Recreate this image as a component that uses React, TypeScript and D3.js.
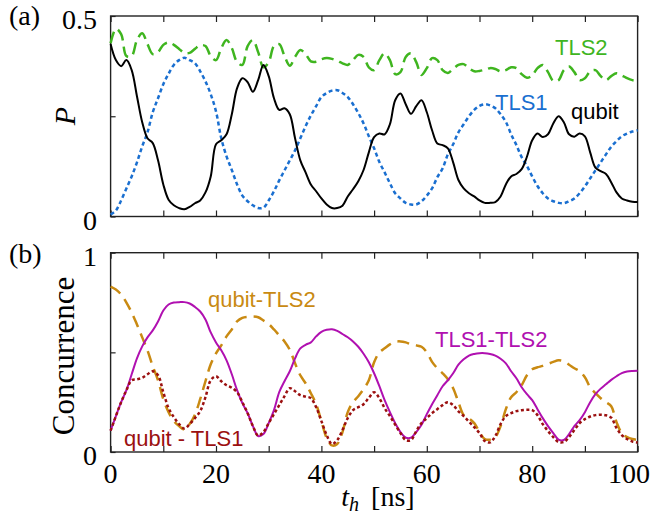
import * as d3 from 'd3'
import { useEffect, useRef } from 'react'

// sample times, ns
const timeNs = d3.range(0, 101, 1)

// panel (a): populations
const qubitP = [
  0.43, 0.39, 0.375, 0.39, 0.365, 0.3, 0.235, 0.195, 0.183, 0.14,
  0.08, 0.042, 0.028, 0.021, 0.018, 0.024, 0.033, 0.04, 0.06, 0.1,
  0.18, 0.19, 0.205, 0.255, 0.32, 0.345, 0.335, 0.311, 0.34, 0.378,
  0.35, 0.295, 0.266, 0.27, 0.255, 0.195, 0.14, 0.11, 0.08, 0.063,
  0.045, 0.03, 0.021, 0.021, 0.027, 0.05, 0.068, 0.088, 0.116, 0.16,
  0.198, 0.207, 0.205, 0.23, 0.29, 0.307, 0.28, 0.256, 0.275, 0.29,
  0.26, 0.215, 0.182, 0.178, 0.17, 0.135, 0.091, 0.07, 0.058, 0.05,
  0.04, 0.034, 0.034, 0.036, 0.05, 0.08, 0.1, 0.106, 0.118, 0.149,
  0.19, 0.207, 0.198, 0.205, 0.232, 0.25, 0.235, 0.205, 0.199, 0.207,
  0.2, 0.16, 0.122, 0.113, 0.106, 0.085, 0.06, 0.045, 0.04, 0.037,
  0.036,
]
const tls1P = [
  0.005, 0.015, 0.04, 0.07, 0.1, 0.135, 0.175, 0.21, 0.26, 0.295,
  0.33, 0.356, 0.378, 0.39, 0.396, 0.39, 0.382, 0.362, 0.337, 0.305,
  0.262, 0.195, 0.15, 0.116, 0.08, 0.052, 0.038, 0.028, 0.021, 0.022,
  0.04, 0.063, 0.09, 0.115, 0.14, 0.165, 0.195, 0.225, 0.252, 0.275,
  0.298, 0.308, 0.314, 0.315, 0.308, 0.298, 0.28, 0.258, 0.232, 0.2,
  0.17, 0.136, 0.11, 0.083, 0.058, 0.045, 0.034, 0.03, 0.03, 0.038,
  0.052, 0.07, 0.098, 0.12, 0.155, 0.18, 0.21, 0.23, 0.25, 0.266,
  0.276, 0.28, 0.277, 0.27, 0.255, 0.236, 0.205, 0.178, 0.148, 0.126,
  0.1, 0.076, 0.058, 0.045, 0.038, 0.034, 0.033, 0.038, 0.045, 0.058,
  0.075, 0.095, 0.115, 0.135, 0.155, 0.174, 0.188, 0.2, 0.207, 0.212,
  0.215,
]
const tls2P = [
  0.432, 0.468, 0.455, 0.4, 0.4, 0.44, 0.457, 0.43, 0.405, 0.41,
  0.428, 0.434, 0.428, 0.418, 0.408, 0.408, 0.418, 0.427, 0.425, 0.4,
  0.39, 0.42, 0.44, 0.42, 0.385, 0.378, 0.425, 0.44, 0.41, 0.372,
  0.385, 0.425, 0.43, 0.4, 0.376, 0.398, 0.415, 0.405, 0.387, 0.386,
  0.392, 0.395, 0.393, 0.388, 0.382, 0.378, 0.39, 0.403, 0.398, 0.372,
  0.365, 0.39, 0.407, 0.39, 0.355, 0.36, 0.398, 0.407, 0.385, 0.353,
  0.37, 0.395, 0.39, 0.365, 0.358, 0.368, 0.378, 0.38, 0.37, 0.362,
  0.363, 0.366, 0.37, 0.368, 0.362, 0.365, 0.372, 0.37, 0.355, 0.346,
  0.352, 0.37, 0.378, 0.36, 0.338, 0.34, 0.365, 0.374, 0.36, 0.34,
  0.345, 0.362, 0.365, 0.35, 0.34, 0.35, 0.357, 0.352, 0.345, 0.34,
  0.338,
]

// panel (b): concurrence
const tls1Tls2C = [
  0.107, 0.18, 0.25, 0.31, 0.39, 0.47, 0.53, 0.575, 0.61, 0.655,
  0.71, 0.74, 0.75, 0.752, 0.752, 0.745, 0.728, 0.705, 0.665, 0.6,
  0.55, 0.51, 0.46, 0.39, 0.31, 0.245, 0.195, 0.13, 0.08, 0.09,
  0.145, 0.21, 0.3, 0.355, 0.405, 0.47, 0.52, 0.538, 0.55, 0.58,
  0.603, 0.613, 0.616, 0.608, 0.592, 0.576, 0.555, 0.528, 0.493, 0.45,
  0.395, 0.33, 0.26, 0.2, 0.145, 0.1, 0.072, 0.072, 0.1, 0.137,
  0.19, 0.24, 0.285, 0.33, 0.36, 0.395, 0.438, 0.465, 0.484, 0.492,
  0.496, 0.496, 0.492, 0.484, 0.468, 0.445, 0.405, 0.37, 0.325, 0.29,
  0.26, 0.215, 0.17, 0.13, 0.095, 0.062, 0.06, 0.09, 0.13, 0.16,
  0.2, 0.25, 0.29, 0.318, 0.34, 0.362, 0.38, 0.396, 0.404, 0.407,
  0.408,
]
const qubitTls2C = [
  0.83, 0.815, 0.79, 0.75, 0.7, 0.64, 0.575, 0.51, 0.43, 0.36,
  0.265, 0.2, 0.155, 0.13, 0.113, 0.14, 0.187, 0.265, 0.355, 0.44,
  0.495, 0.535, 0.58, 0.615, 0.655, 0.673, 0.678, 0.68, 0.676, 0.66,
  0.642, 0.615, 0.585, 0.555, 0.513, 0.445, 0.385, 0.345, 0.295, 0.24,
  0.155, 0.07, 0.033, 0.04, 0.1, 0.2, 0.25, 0.28, 0.315, 0.36,
  0.45, 0.5, 0.52, 0.54, 0.553, 0.555, 0.55, 0.54, 0.535, 0.528,
  0.5, 0.452, 0.42, 0.395, 0.365, 0.32, 0.25, 0.185, 0.168, 0.145,
  0.1, 0.065, 0.062, 0.075, 0.13, 0.215, 0.275, 0.3, 0.335, 0.385,
  0.415, 0.425, 0.432, 0.442, 0.452, 0.46, 0.455, 0.438, 0.42, 0.405,
  0.375, 0.325, 0.295, 0.27, 0.25, 0.23, 0.15, 0.095, 0.075, 0.065,
  0.06,
]
const qubitTls1C = [
  0.107, 0.18, 0.25, 0.31, 0.36, 0.365, 0.372, 0.39, 0.405, 0.385,
  0.3, 0.22, 0.175, 0.14, 0.118, 0.14, 0.17, 0.205, 0.275, 0.36,
  0.38, 0.355, 0.335, 0.322, 0.3, 0.25, 0.195, 0.13, 0.082, 0.1,
  0.145, 0.19, 0.235, 0.28, 0.32, 0.305, 0.285, 0.278, 0.27, 0.225,
  0.155, 0.085, 0.04, 0.06, 0.11, 0.17, 0.21, 0.225, 0.24, 0.272,
  0.3, 0.27, 0.22, 0.18, 0.137, 0.095, 0.06, 0.06, 0.105, 0.145,
  0.17, 0.195, 0.215, 0.235, 0.25, 0.235, 0.204, 0.18, 0.152, 0.125,
  0.095, 0.055, 0.048, 0.08, 0.14, 0.18, 0.195, 0.205, 0.21, 0.212,
  0.21, 0.185, 0.14, 0.105, 0.075, 0.05, 0.05, 0.075, 0.11, 0.145,
  0.165, 0.178, 0.185, 0.187, 0.184, 0.172, 0.12, 0.085, 0.065, 0.053,
  0.048,
]

const xTicks = d3.range(0, 101, 10)
const xTickLabels = [0, 20, 40, 60, 80, 100]
const yTicksA = [0, 0.25, 0.5]
const yTickLabelsA = [0, 0.5]
const yTicksB = [0, 0.5, 1]
const yTickLabelsB = [0, 1]

const serif = '"Liberation Serif", "DejaVu Serif", serif'
const sans = '"Liberation Sans", Arial, sans-serif'

const App = () => {
  const ref = useRef<SVGSVGElement>(null)

  useEffect(() => {
    document.body.style.margin = '0'
    const width = 651
    const height = 521
    const svg = d3.select(ref.current)
    svg.selectAll('*').remove()
    svg.attr('width', width).attr('height', height).style('display', 'block')

    const x = d3.scaleLinear().domain([0, 100]).range([110.6, 637.6])
    const yA = d3.scaleLinear().domain([0, 0.5]).range([216.5, 16])
    const yB = d3.scaleLinear().domain([0, 1]).range([452, 252.7])

    const panel = (y, yTicks, yLabels, fmt) => {
      const g = svg.append('g')
      const [y0, y1] = y.range()
      // inward ticks, bottom and top
      g.append('g')
        .attr('transform', `translate(0, ${y0})`)
        .call(d3.axisBottom(x).tickValues(xTicks).tickSize(-6).tickSizeOuter(0).tickFormat(() => ''))
      g.append('g')
        .attr('transform', `translate(0, ${y1})`)
        .call(d3.axisTop(x).tickValues(xTicks).tickSize(-6).tickSizeOuter(0).tickFormat(() => ''))
      g.append('g')
        .attr('transform', `translate(${x(0)}, 0)`)
        .call(d3.axisLeft(y).tickValues(yTicks).tickSize(-5).tickSizeOuter(0).tickFormat(() => ''))
      g.selectAll('.domain').remove()
      g.selectAll('.tick line').attr('stroke', '#222').attr('stroke-width', 1.2)

      g.append('rect')
        .attr('x', x(0))
        .attr('y', y1)
        .attr('width', x(100) - x(0))
        .attr('height', y0 - y1)
        .attr('fill', 'none')
        .attr('stroke', '#222')
        .attr('stroke-width', 1.4)

      g.append('g')
        .selectAll('text')
        .data(yLabels)
        .join('text')
        .attr('x', 97)
        .attr('y', (d) => y(d) + 13)
        .attr('text-anchor', 'end')
        .style('font-family', serif)
        .style('font-size', '28px')
        .text(fmt)
      return g
    }

    panel(yA, yTicksA, yTickLabelsA, (d) => (d === 0 ? '0' : '0.5'))
    panel(yB, yTicksB, yTickLabelsB, (d) => String(d))

    const drawLine = (values, y, color, dash, w) => {
      const line = d3
        .line<number>()
        .x((d, i) => x(timeNs[i]))
        .y((d) => y(d))
        .curve(d3.curveCatmullRom.alpha(0.5))
      svg
        .append('path')
        .datum(values)
        .attr('d', line)
        .attr('fill', 'none')
        .attr('stroke', color)
        .attr('stroke-width', w)
        .attr('stroke-dasharray', dash)
    }

    // Panel (a)
    drawLine(tls2P, yA, '#3fb51f', '12,6', 2.5)
    drawLine(tls1P, yA, '#1a6fd0', '4,3', 2.5)
    drawLine(qubitP, yA, '#000', null, 2)

    // Panel (b)
    drawLine(qubitTls2C, yB, '#c98a12', '12,7', 2.5)
    drawLine(tls1Tls2C, yB, '#b010b0', null, 2)
    drawLine(qubitTls1C, yB, '#9b1010', '3,2.5', 2.5)

    // x tick labels (last one kept inside the page)
    svg
      .append('g')
      .selectAll('text')
      .data(xTickLabels)
      .join('text')
      .attr('x', (d) => (d === 100 ? width - 1 : x(d)))
      .attr('y', 483)
      .attr('text-anchor', (d) => (d === 100 ? 'end' : 'middle'))
      .style('font-family', serif)
      .style('font-size', '28px')
      .text((d) => d)

    // Series labels
    const labels = [
      { t: 'TLS2', x: 555, y: 55, c: '#3fb51f' },
      { t: 'TLS1', x: 495, y: 110, c: '#1a6fd0' },
      { t: 'qubit', x: 571, y: 119, c: '#000' },
      { t: 'qubit-TLS2', x: 208, y: 307, c: '#c98a12' },
      { t: 'TLS1-TLS2', x: 435, y: 347, c: '#b010b0' },
      { t: 'qubit - TLS1', x: 124, y: 446, c: '#9b1010' },
    ]
    svg
      .append('g')
      .selectAll('text')
      .data(labels)
      .join('text')
      .attr('x', (d) => d.x)
      .attr('y', (d) => d.y)
      .attr('fill', (d) => d.c)
      .style('font-family', sans)
      .style('font-size', '22px')
      .text((d) => d.t)

    // Panel tags
    svg.append('text').attr('x', 9).attr('y', 25).style('font-family', serif).style('font-size', '28px').text('(a)')
    svg.append('text').attr('x', 9).attr('y', 263).style('font-family', serif).style('font-size', '28px').text('(b)')

    // Axis labels
    svg
      .append('text')
      .attr('transform', 'translate(75, 116) rotate(-90)')
      .attr('text-anchor', 'middle')
      .style('font-family', serif)
      .style('font-size', '30px')
      .style('font-style', 'italic')
      .text('P')
    svg
      .append('text')
      .attr('transform', 'translate(74, 356) rotate(-90)')
      .attr('text-anchor', 'middle')
      .style('font-family', serif)
      .style('font-size', '31px')
      .text('Concurrence')

    const xl = svg
      .append('text')
      .attr('x', 378)
      .attr('y', 506)
      .attr('text-anchor', 'middle')
      .style('font-family', serif)
      .style('font-size', '28px')
    xl.append('tspan').style('font-style', 'italic').text('t')
    xl.append('tspan').style('font-style', 'italic').style('font-size', '20px').attr('dy', 5).text('h')
    xl.append('tspan').attr('dy', -5).attr('dx', 12).text('[ns]')
  }, [])

  return (
    <div>
      <svg ref={ref}></svg>
    </div>
  )
}

export default App
